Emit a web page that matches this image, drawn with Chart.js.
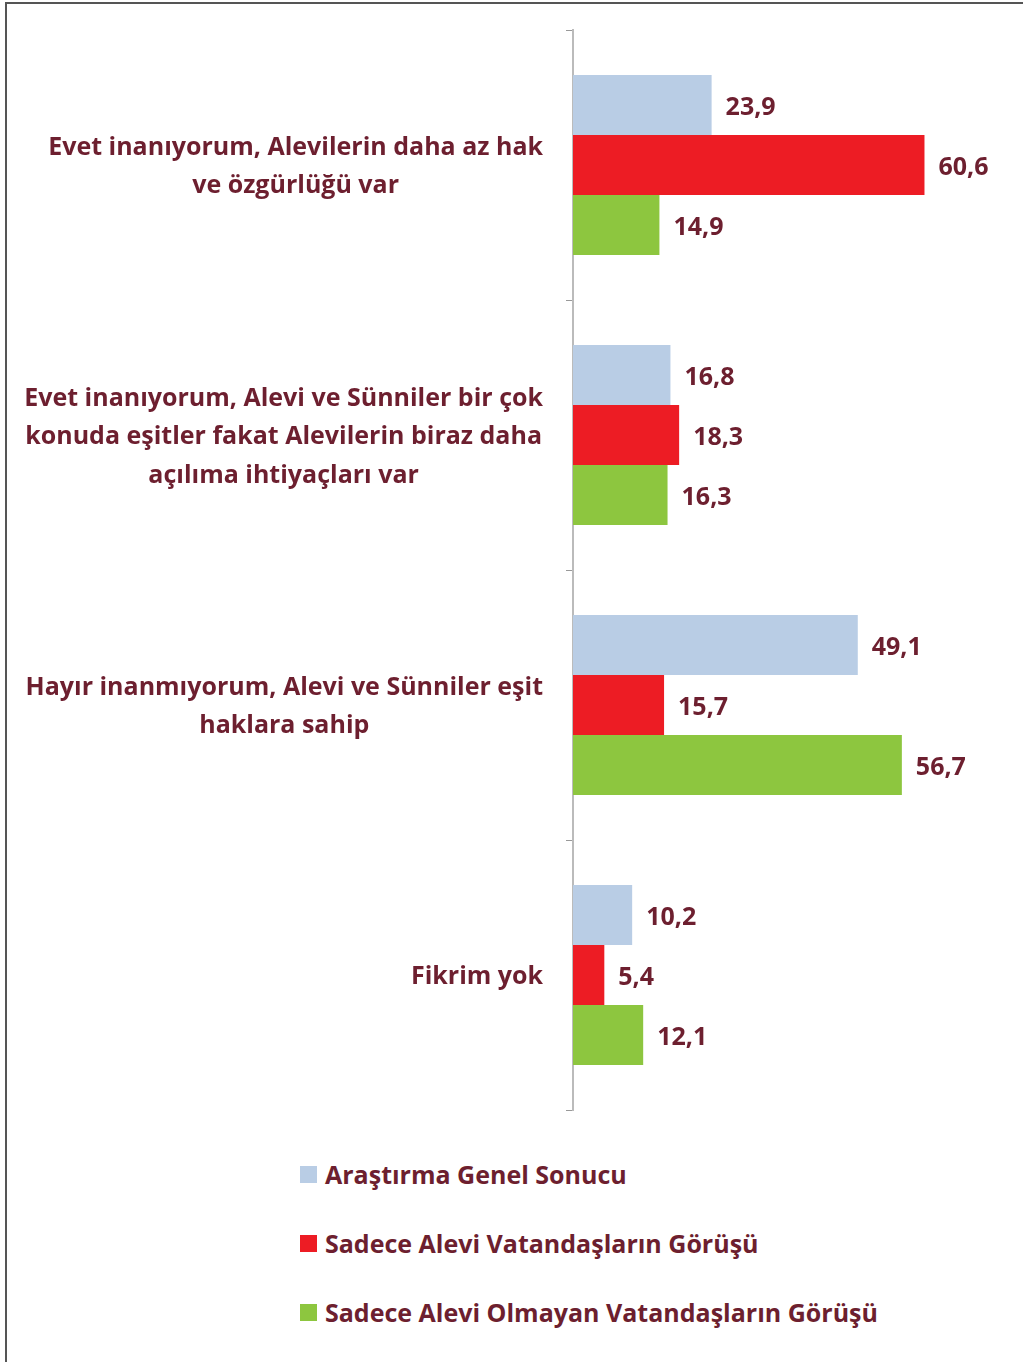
<!DOCTYPE html>
<html>
<head>
<meta charset="utf-8">
<script src="https://cdn.jsdelivr.net/npm/chart.js@4"></script>
<style>
  body { margin: 0; background: #fff; }
  #frame {
    position: absolute; left: 5px; top: 2px; width: 1018px; height: 1360px;
    border-left: 2px solid #555; border-top: 2px solid #555;
  }
  #wrap { position: absolute; left: 0; top: 0; width: 1023px; height: 1140px; }
  #legend { position: absolute; left: 300px; top: 1157px; font: bold 25px "Open Sans", sans-serif; color: #6d1f2f; }
  #legend div { height: 69px; display: flex; align-items: flex-start; line-height: 34px; white-space: nowrap; }
  #legend span.box { display: inline-block; width: 17px; height: 17px; margin: 9px 8px 0 0; }
</style>
</head>
<body>
<div id="frame"></div>
<div id="wrap"><canvas id="myChart"></canvas></div>
<div id="legend"></div>
<script>
const categories = [
  ["Evet inanıyorum, Alevilerin daha az hak", "ve özgürlüğü var"],
  ["Evet inanıyorum, Alevi ve Sünniler bir çok", "konuda eşitler fakat Alevilerin biraz daha", "açılıma ihtiyaçları var"],
  ["Hayır inanmıyorum, Alevi ve Sünniler eşit", "haklara sahip"],
  ["Fikrim yok"]
];
const seriesNames = [
  "Araştırma Genel Sonucu",
  "Sadece Alevi Vatandaşların Görüşü",
  "Sadece Alevi Olmayan Vatandaşların Görüşü"
];
const genelSonuc = [23.9, 16.8, 49.1, 10.2];
const aleviGorus = [60.6, 18.3, 15.7, 5.4];
const aleviOlmayanGorus = [14.9, 16.3, 56.7, 12.1];
const colors = ["#b9cde5", "#ed1c24", "#8dc63f"];

const textColor = "#6d1f2f";
const font = "bold 25px 'Open Sans', sans-serif";

const ctx = document.querySelector("#myChart");

// category labels: block right aligned to axis, lines centered inside block
const categoryLabels = {
  id: "categoryLabels",
  afterDraw(chart) {
    const c = chart.ctx;
    const yScale = chart.scales.y;
    c.save();
    c.font = font;
    c.fillStyle = textColor;
    c.textAlign = "center";
    c.textBaseline = "middle";
    const lineH = 38.5;
    categories.forEach((lines, i) => {
      const yc = yScale.getPixelForValue(i) + 2;
      const blockW = Math.max(...lines.map((l) => c.measureText(l).width));
      const xc = 543 - blockW / 2;
      lines.forEach((l, j) => {
        c.fillText(l, xc, yc + (j - (lines.length - 1) / 2) * lineH);
      });
    });
    c.restore();
  },
};

const valueLabels = {
  id: "valueLabels",
  afterDatasetsDraw(chart) {
    const c = chart.ctx;
    c.save();
    c.font = font;
    c.fillStyle = textColor;
    c.textAlign = "left";
    c.textBaseline = "middle";
    chart.data.datasets.forEach((ds, di) => {
      chart.getDatasetMeta(di).data.forEach((bar, i) => {
        c.fillText(ds.data[i].toFixed(1).replace(".", ","), bar.x + 14, bar.y + 3);
      });
    });
    c.restore();
  },
};

const data = {
  labels: categories,
  datasets: [
    { label: seriesNames[0], data: genelSonuc, backgroundColor: colors[0] },
    { label: seriesNames[1], data: aleviGorus, backgroundColor: colors[1] },
    { label: seriesNames[2], data: aleviOlmayanGorus, backgroundColor: colors[2] },
  ],
};

const config = {
  type: "bar",
  data,
  options: {
    indexAxis: "y",
    responsive: true,
    maintainAspectRatio: false,
    animation: false,
    layout: { padding: { top: 30, bottom: 30, right: 15, left: 0 } },
    datasets: { bar: { categoryPercentage: 0.667, barPercentage: 1 } },
    plugins: { legend: { display: false }, tooltip: { enabled: false } },
    scales: {
      x: { display: false, min: 0, max: 75 },
      y: {
        afterFit(scale) { scale.width = 573; },
        ticks: { display: false },
        grid: { offset: true, drawOnChartArea: false, drawTicks: true, tickLength: 7, color: "#999", lineWidth: 1 },
        border: { display: true, color: "#bbb", width: 2 },
      },
    },
  },
  plugins: [categoryLabels, valueLabels],
};

new Chart(ctx, config);

const legend = document.querySelector("#legend");
seriesNames.forEach((name, i) => {
  legend.innerHTML += `<div><span class="box" style="background:${colors[i]}"></span>${name}</div>`;
});
</script>
</body>
</html>
